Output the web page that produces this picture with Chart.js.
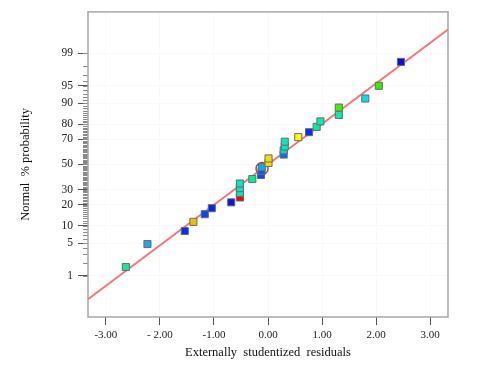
<!DOCTYPE html>
<html>
<head>
<meta charset="utf-8">
<script src="https://cdn.jsdelivr.net/npm/chart.js@4.4.1/dist/chart.umd.min.js"></script>
<style>
  html, body { margin: 0; padding: 0; background: #fff; }
</style>
</head>
<body>
<canvas id="myChart" width="480" height="374"></canvas>
<script>
// data
const residuals = [-2.63, -2.23, -1.54, -1.38, -1.17, -1.04, -0.68, -0.52, -0.52, -0.52,
  -0.52, -0.29, -0.13, -0.12, -0.11, 0.01, 0.01, 0.29, 0.29, 0.31,
  0.31, 0.56, 0.76, 0.90, 0.97, 1.31, 1.31, 1.80, 2.05, 2.46];
const probabilities = [1.6, 4.8, 8.2, 11.5, 14.9, 18.0, 21.4, 24.5, 27.7, 31.0,
  34.5, 38.0, 41.3, 44.5, 47.8, 51.3, 55.0, 58.2, 61.6, 64.7,
  68.3, 71.6, 75.0, 78.4, 81.6, 85.0, 88.3, 91.6, 95.0, 98.4];
const pointColors = ['#10e8a0', '#18a8f0', '#0030f0', '#f0c000', '#0048f0', '#0028f0', '#0018e8', '#ff0000', '#00e8c0', '#00e8c0',
  '#00e8c0', '#00f090', '#0050f0', '#0060f0', '#10a8f0', '#f0e000', '#f0e000', '#0070f0', '#00d8d8', '#00e8c0',
  '#00e8c0', '#ffff00', '#0030f0', '#00f0a0', '#00f0b0', '#00f0b0', '#40f000', '#00e0f0', '#30f000', '#0010f0'];

const highlightResidual = [-0.11];
const highlightProb = [46.7];

const refLineResidual = [-3.33, 3.33];
const refLineProb = [0.24, 99.76];

const xTickValues = [-3, -2, -1, 0, 1, 2, 3];
const xTickLabels = ['-3.00', '- 2.00', '-1.00', '0.00', '1.00', '2.00', '3.00'];
const yTickProbs = [1, 5, 10, 20, 30, 50, 70, 80, 90, 95, 99];
const yTickLabels = ['1', '5', '10', '20', '30', '50', '70', '80', '90', '95', '99'];

// inverse normal cdf (Acklam) -> probability axis
function probit(p) {
  const a = [-3.969683028665376e+01, 2.209460984245205e+02, -2.759285104469687e+02, 1.383577518672690e+02, -3.066479806614716e+01, 2.506628277459239e+00];
  const b = [-5.447609879822406e+01, 1.615858368580409e+02, -1.556989798598866e+02, 6.680131188771972e+01, -1.328068155288572e+01];
  const c = [-7.784894002430293e-03, -3.223964580411365e-01, -2.400758277161838e+00, -2.549671010229134e+00, 4.374664141464968e+00, 2.938163982698783e+00];
  const d = [7.784695709041462e-03, 3.224671290700398e-01, 2.445134137142996e+00, 3.754408161354944e+00];
  const pl = 0.02425;
  let q, r;
  if (p < pl) {
    q = Math.sqrt(-2 * Math.log(p));
    return (((((c[0]*q+c[1])*q+c[2])*q+c[3])*q+c[4])*q+c[5]) / ((((d[0]*q+d[1])*q+d[2])*q+d[3])*q+1);
  }
  if (p > 1 - pl) {
    q = Math.sqrt(-2 * Math.log(1 - p));
    return -(((((c[0]*q+c[1])*q+c[2])*q+c[3])*q+c[4])*q+c[5]) / ((((d[0]*q+d[1])*q+d[2])*q+d[3])*q+1);
  }
  q = p - 0.5; r = q * q;
  return (((((a[0]*r+a[1])*r+a[2])*r+a[3])*r+a[4])*r+a[5])*q / (((((b[0]*r+b[1])*r+b[2])*r+b[3])*r+b[4])*r+1);
}
const z = pct => probit(pct / 100);

const serif = 'Liberation Serif';

const framePlugin = {
  id: 'frame',
  beforeDatasetsDraw(chart) {
    const ctx = chart.ctx;
    const a = chart.chartArea;
    const ys = chart.scales.y;
    ctx.save();
    // minor ticks every 1 %
    ctx.strokeStyle = '#8a8a8a';
    ctx.lineWidth = 1;
    ctx.beginPath();
    for (let p = 1; p <= 99; p++) {
      const py = Math.round(ys.getPixelForValue(z(p))) + 0.5;
      ctx.moveTo(a.left - 5, py);
      ctx.lineTo(a.left, py);
    }
    ctx.stroke();
    ctx.strokeStyle = '#a8a8a8';
    ctx.lineWidth = 1.5;
    ctx.strokeRect(a.left, a.top, a.right - a.left, a.bottom - a.top);
    ctx.restore();
  }
};

const ctx = document.getElementById('myChart').getContext('2d');
const chart = new Chart(ctx, {
  type: 'scatter',
  data: {
    datasets: [{
      data: residuals.map((r, i) => ({ x: r, y: z(probabilities[i]) })),
      pointStyle: 'rect',
      pointRadius: 5,
      backgroundColor: pointColors,
      borderColor: '#6a6a6a',
      borderWidth: 1
    },
    {
      data: highlightResidual.map((r, i) => ({ x: r, y: z(highlightProb[i]) })),
      pointStyle: 'circle',
      pointRadius: 6,
      backgroundColor: 'rgba(0,0,0,0)',
      borderColor: '#a04848',
      borderWidth: 1.5
    },
    {
      type: 'line',
      data: refLineResidual.map((r, i) => ({ x: r, y: z(refLineProb[i]) })),
      borderColor: '#f47878',
      borderWidth: 2,
      pointRadius: 0,
      fill: false
    }]
  },
  options: {
    responsive: false,
    animation: false,
    layout: { padding: { top: 9, right: 32, left: 0, bottom: 0 } },
    plugins: { legend: { display: false }, tooltip: { enabled: false } },
    scales: {
      x: {
        type: 'linear',
        min: -3.33,
        max: 3.33,
        afterBuildTicks: s => { s.ticks = xTickValues.map(v => ({ value: v })); },
        afterFit: s => { s.height = 57; },
        ticks: {
          autoSkip: false,
          maxRotation: 0,
          padding: 4,
          color: '#222',
          font: { family: serif, size: 11 },
          callback: (v, i) => xTickLabels[i]
        },
        grid: { color: '#f9f9f9', tickColor: '#555', tickLength: 8 },
        border: { display: false },
        title: {
          display: true,
          text: 'Externally  studentized  residuals',
          color: '#111',
          font: { family: serif, size: 12.5 },
          padding: { top: 0, bottom: 14 }
        }
      },
      y: {
        type: 'linear',
        min: -3.19,
        max: 3.19,
        afterBuildTicks: s => { s.ticks = yTickProbs.map(p => ({ value: z(p) })); },
        afterFit: s => { s.width = 88; },
        ticks: {
          autoSkip: false,
          padding: 5,
          color: '#222',
          font: { family: serif, size: 11.5 },
          callback: (v, i) => yTickLabels[i]
        },
        grid: { color: '#f9f9f9', tickColor: '#555', tickLength: 10 },
        border: { display: false },
        title: {
          display: true,
          text: 'Normal  % probability',
          color: '#111',
          font: { family: serif, size: 12.5 },
          padding: { top: 18, bottom: 0 }
        }
      }
    }
  },
  plugins: [framePlugin]
});
</script>
</body>
</html>
